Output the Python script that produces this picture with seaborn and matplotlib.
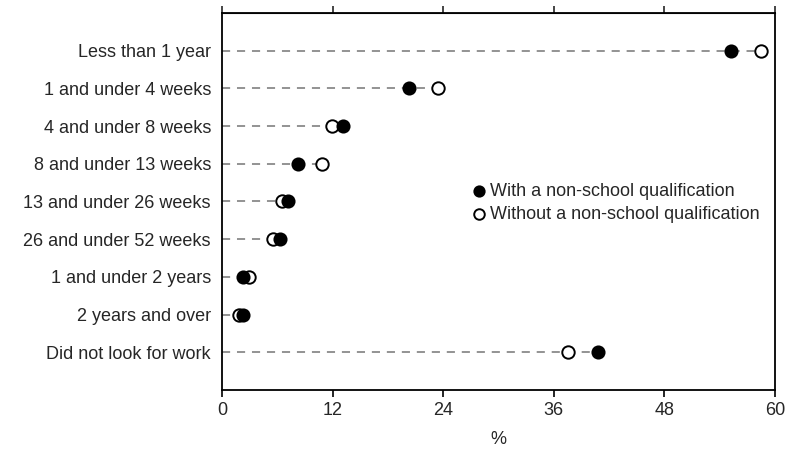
import matplotlib
matplotlib.use('Agg')
import matplotlib.pyplot as plt
import seaborn as sns
import pandas as pd

categories = ['Less than 1 year', '1 and under 4 weeks', '4 and under 8 weeks',
              '8 and under 13 weeks', '13 and under 26 weeks', '26 and under 52 weeks',
              '1 and under 2 years', '2 years and over', 'Did not look for work']
with_qual = [55.2, 20.3, 13.1, 8.2, 7.2, 6.3, 2.3, 2.3, 40.8]
without_qual = [58.5, 23.4, 11.9, 10.8, 6.5, 5.5, 2.9, 1.8, 37.5]
x_ticks = [0, 12, 24, 36, 48, 60]

sns.set_style('white')
plt.rcParams['font.family'] = ['Liberation Sans', 'DejaVu Sans']

df = pd.DataFrame({'category': categories, 'with': with_qual, 'without': without_qual})
df['pos'] = range(len(df))
df['max'] = df[['with', 'without']].max(axis=1)

fig = plt.figure(figsize=(7.91, 4.54), dpi=100)
ax = fig.add_axes([0.2807, 0.141, 0.699, 0.8304])

# dashed leader lines from 0 to the furthest point
ax.hlines(df['pos'], 0, df['max'], colors='#8a8a8a', linestyles=(0, (4.5, 3.8)),
          linewidth=1.3, zorder=1)

sns.scatterplot(x='without', y='pos', data=df, ax=ax, color='white', edgecolor='black',
                s=80, linewidth=1.4, zorder=3, label='Without a non-school qualification')
sns.scatterplot(x='with', y='pos', data=df, ax=ax, color='black', edgecolor='black',
                s=80, linewidth=1.2, zorder=4, label='With a non-school qualification')

ax.set_xlim(0, 60)
ax.set_ylim(9, -1)
ax.set_xticks(x_ticks)
ax.set_yticks(df['pos'])
ax.set_yticklabels(categories)
ax.set_xlabel('%', fontsize=13, labelpad=8)
ax.set_ylabel('')

for s in ax.spines.values():
    s.set_visible(True)
    s.set_color('black')
    s.set_linewidth(1.3)

ax.tick_params(axis='x', which='both', bottom=True, top=False, direction='out',
               length=5, width=1.2, labelsize=13, color='black', pad=4)
ax.tick_params(axis='y', length=0, labelsize=13, pad=8)

# top ticks without labels
sec = ax.secondary_xaxis('top')
sec.set_xticks(x_ticks)
sec.set_xticklabels([])
sec.tick_params(length=5, width=1.2, direction='out')

handles, labels = ax.get_legend_handles_labels()
leg = ax.legend(handles[::-1], labels[::-1], loc='upper left',
                bbox_to_anchor=(0.428, 0.573), frameon=False,
                fontsize=13, handletextpad=0.05, labelspacing=0.32, borderpad=0,
                markerscale=0.85, handlelength=1.2)

fig.savefig('out.png', dpi=100)
